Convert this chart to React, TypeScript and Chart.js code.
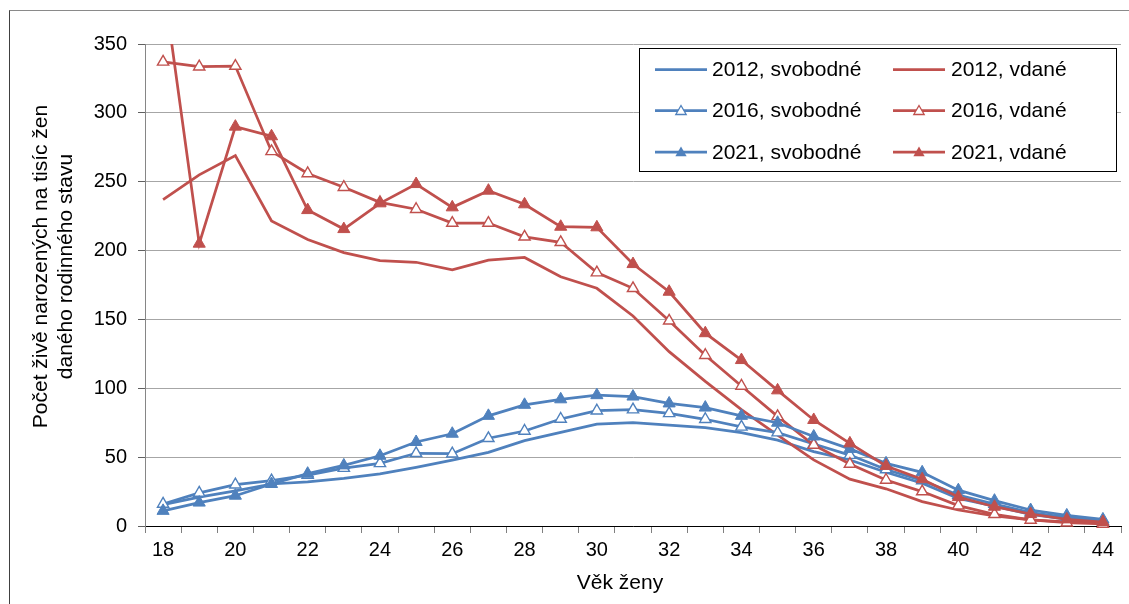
import React, { useEffect, useRef } from 'react';
import { Chart, registerables } from 'chart.js';

Chart.register(...registerables);

const ages = ['18','19','20','21','22','23','24','25','26','27','28','29','30','31','32','33','34','35','36','37','38','39','40','41','42','43','44'];

const svobodne2012 = [15.5, 21, 25.5, 30.5, 32, 34.5, 37.8, 42.6, 47.9, 53.5, 62, 68, 74, 75, 73.3, 71.4, 67.8, 62.4, 54, 47.9, 39, 31, 20, 14.5, 8.5, 5, 3];
const svobodne2016 = [16, 24, 30, 33, 37, 42, 45.5, 52.8, 52.5, 63.7, 69, 77.7, 83.7, 84.5, 81.8, 77.5, 72, 67.8, 59.5, 51.5, 41, 33, 22.5, 16, 9.7, 6.3, 3.5];
const svobodne2021 = [11, 17, 22, 30.5, 38, 44, 51, 61, 67, 80, 88, 92, 95, 94, 89, 86, 80, 75, 65, 56, 45.5, 39, 26, 18.4, 11.6, 7.7, 4.8];
const vdane2012 = [237, 255, 269, 221.5, 208, 198.5, 192.7, 191.5, 186, 193, 195, 181, 172.6, 152.5, 126.6, 105, 84.5, 66, 48, 34, 27, 17.7, 11.6, 7.3, 4.5, 3, 2];
const vdane2016 = [337, 333.5, 334, 272, 256, 246, 235, 230, 220, 220, 210, 206, 184, 172.6, 149, 124, 101.7, 79.6, 58.8, 45, 33.4, 25, 14.8, 8.5, 4.4, 2.4, 1.5];
const vdane2021 = [396, 205, 290, 283, 229.4, 215.6, 234.3, 248.3, 231.4, 243.5, 233.6, 217.3, 216.9, 190.2, 170.1, 140, 120.5, 98.5, 77, 60, 43.6, 34, 21, 14, 8.7, 4.8, 2.9];

const yTitleLines = ['Počet živě narozených na tisíc žen', 'daného rodinného stavu'];
const xTitle = 'Věk ženy';

const BLUE = '#4F81BD';
const RED = '#C0504D';
const FONT = "'Liberation Sans', Arial, sans-serif";

type MarkerStyle = 'none' | 'open' | 'filled';

const legendItems: { label: string; color: string; style: MarkerStyle; col: number; row: number }[] = [
  { label: '2012, svobodné', color: BLUE, style: 'none', col: 0, row: 0 },
  { label: '2016, svobodné', color: BLUE, style: 'open', col: 0, row: 1 },
  { label: '2021, svobodné', color: BLUE, style: 'filled', col: 0, row: 2 },
  { label: '2012, vdané', color: RED, style: 'none', col: 1, row: 0 },
  { label: '2016, vdané', color: RED, style: 'open', col: 1, row: 1 },
  { label: '2021, vdané', color: RED, style: 'filled', col: 1, row: 2 },
];

function triangle(ctx: CanvasRenderingContext2D, x: number, y: number, r: number) {
  ctx.beginPath();
  ctx.moveTo(x, y - r);
  ctx.lineTo(x + r * 0.866, y + r * 0.5);
  ctx.lineTo(x - r * 0.866, y + r * 0.5);
  ctx.closePath();
}

const overlayPlugin = {
  id: 'overlay',
  afterDraw(chart: any) {
    const ctx: CanvasRenderingContext2D = chart.ctx;
    ctx.save();
    const bx = 639.5, by = 48.5, bw = 477, bh = 123;
    ctx.fillStyle = '#ffffff';
    ctx.fillRect(bx, by, bw, bh);
    ctx.strokeStyle = '#000000';
    ctx.lineWidth = 1;
    ctx.strokeRect(bx, by, bw, bh);
    const colX = [655, 893];
    const textX = [712, 951];
    const rowY = [69.5, 110.5, 152];
    ctx.font = `21px ${FONT}`;
    ctx.textBaseline = 'middle';
    ctx.textAlign = 'left';
    for (const it of legendItems) {
      const x0 = colX[it.col];
      const y = rowY[it.row];
      ctx.strokeStyle = it.color;
      ctx.lineWidth = 2.75;
      ctx.beginPath();
      ctx.moveTo(x0, y);
      ctx.lineTo(x0 + 52, y);
      ctx.stroke();
      const cx = x0 + 26;
      if (it.style === 'open') {
        triangle(ctx, cx, y + 1, 6);
        ctx.fillStyle = '#fff';
        ctx.fill();
        ctx.lineWidth = 1.3;
        ctx.stroke();
      } else if (it.style === 'filled') {
        triangle(ctx, cx, y + 1, 6.5);
        ctx.fillStyle = it.color;
        ctx.fill();
      }
      ctx.fillStyle = '#000';
      ctx.fillText(it.label, textX[it.col], y + 1);
    }
    ctx.save();
    ctx.translate(47, 266.5);
    ctx.rotate(-Math.PI / 2);
    ctx.font = `21px ${FONT}`;
    ctx.textAlign = 'center';
    ctx.textBaseline = 'alphabetic';
    ctx.fillStyle = '#000';
    yTitleLines.forEach((line, i) => ctx.fillText(line, 0, i * 25));
    ctx.restore();
    ctx.font = `21px ${FONT}`;
    ctx.textAlign = 'center';
    ctx.textBaseline = 'alphabetic';
    ctx.fillStyle = '#000';
    ctx.fillText(xTitle, 620, 589);
    ctx.restore();
  },
};

function ds(label: string, data: number[], color: string, style: MarkerStyle, clip?: any) {
  const base: any = {
    label,
    data,
    borderColor: color,
    backgroundColor: color,
    borderWidth: 2.75,
    tension: 0,
    fill: false,
    clip: clip !== undefined ? clip : false,
  };
  if (style === 'none') {
    base.pointRadius = 0;
    base.pointHoverRadius = 0;
  } else if (style === 'open') {
    base.pointStyle = 'triangle';
    base.pointRadius = 6.5;
    base.pointBackgroundColor = '#ffffff';
    base.pointBorderColor = color;
    base.pointBorderWidth = 1.4;
  } else {
    base.pointStyle = 'triangle';
    base.pointRadius = 7;
    base.pointBackgroundColor = color;
    base.pointBorderColor = color;
    base.pointBorderWidth = 1;
  }
  return base;
}

export default function App() {
  const ref = useRef<HTMLCanvasElement>(null);
  useEffect(() => {
    const canvas = ref.current!;
    const datasets = [
      ds('2021, vdané', vdane2021, RED, 'filled', { left: 5, top: 0, right: 5, bottom: 10 }),
      ds('2021, svobodné', svobodne2021, BLUE, 'filled'),
      ds('2016, vdané', vdane2016, RED, 'open'),
      ds('2016, svobodné', svobodne2016, BLUE, 'open'),
      ds('2012, vdané', vdane2012, RED, 'none'),
      ds('2012, svobodné', svobodne2012, BLUE, 'none'),
    ];
    const chart = new Chart(canvas, {
      type: 'line',
      data: { labels: ages, datasets },
      options: {
        responsive: false,
        animation: false,
        devicePixelRatio: 1,
        layout: { padding: { top: 44, right: 6, left: 0, bottom: 0 } },
        plugins: { legend: { display: false }, tooltip: { enabled: false }, title: { display: false } },
        scales: {
          x: {
            type: 'category',
            offset: true,
            grid: { drawOnChartArea: false, drawTicks: true, tickLength: 7, color: '#808080', offset: true },
            border: { color: '#000000', width: 1 },
            ticks: {
              autoSkip: false,
              maxRotation: 0,
              minRotation: 0,
              padding: 5,
              color: '#000',
              font: { family: FONT, size: 20 },
              callback: (_v: any, i: number) => (i % 2 === 0 ? ages[i] : ''),
            },
            afterFit: (s: any) => { s.height = 78; },
          },
          y: {
            min: 0,
            max: 350,
            ticks: { stepSize: 50, padding: 11, color: '#000', font: { family: FONT, size: 20 } },
            grid: { color: '#a6a6a6', tickColor: '#606060', tickLength: 7, lineWidth: 1 },
            border: { color: '#868686', width: 1 },
            afterFit: (s: any) => { s.width = 145; },
          },
        },
      },
      plugins: [overlayPlugin],
    } as any);
    return () => chart.destroy();
  }, []);
  return (
    <div>
      <div
        style={{
          position: 'fixed',
          left: 9,
          top: 10,
          width: 1120,
          height: 594,
          borderTop: '1px solid #8a8a8a',
          borderLeft: '1px solid #404040',
          boxSizing: 'border-box',
        }}
      />
      <canvas
        ref={ref}
        width={1129}
        height={604}
        style={{ position: 'fixed', left: 0, top: 0, width: 1129, height: 604 }}
      />
    </div>
  );
}
